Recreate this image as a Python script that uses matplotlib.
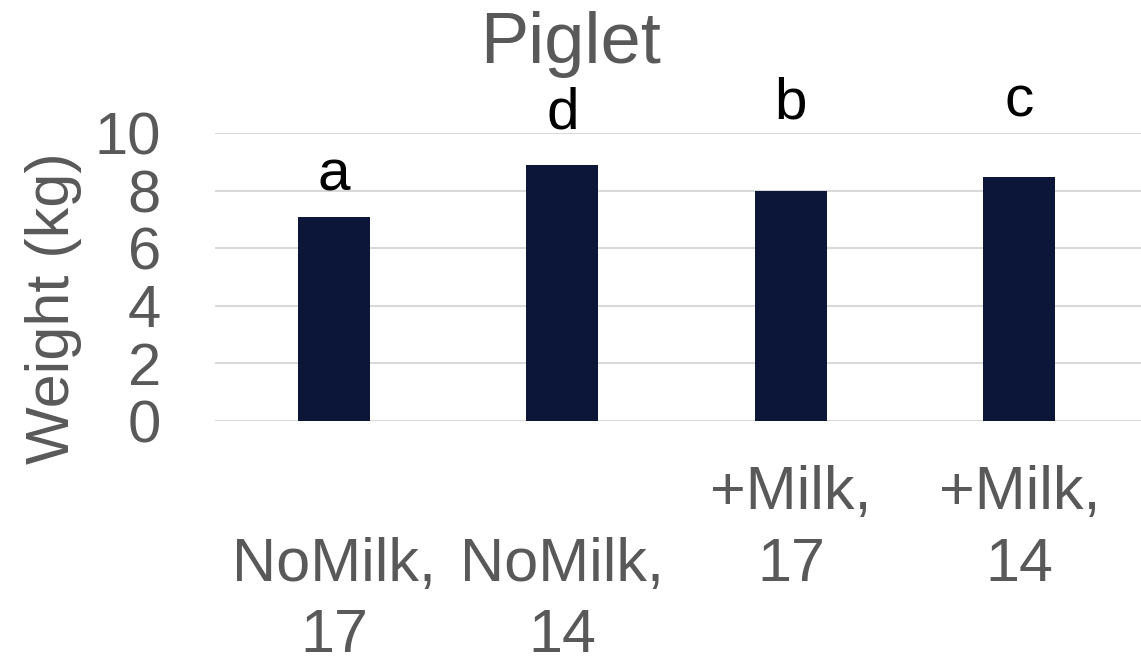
import matplotlib.pyplot as plt

# Piglet weights by treatment group

GROUPS = ["\nNoMilk,\n17", "\nNoMilk,\n14", "+Milk,\n17", "+Milk,\n14"]
WEIGHTS = [7.09, 8.90, 8.00, 8.49]
LETTERS = ["a", "d", "b", "c"]
LETTER_HEIGHTS = [8.03, 10.18, 10.50, 10.57]
Y_TICKS = [0, 2, 4, 6, 8, 10]

BAR_COLOR = "#0c1638"
TEXT_GRAY = "#595959"
GRID_GRAY = "#d9d9d9"

plt.rcParams["font.family"] = ["Liberation Sans", "DejaVu Sans"]

fig = plt.figure(figsize=(11.41, 6.69), dpi=100)
ax = fig.add_axes([0.1884, 0.3707, 0.8116, 0.4300])

positions = range(len(GROUPS))
ax.bar(positions, WEIGHTS, width=0.315, color=BAR_COLOR, zorder=3)

for x, letter, height in zip(positions, LETTERS, LETTER_HEIGHTS):
    ax.text(x, height, letter, ha="center", va="baseline",
            fontsize=42, color="black", clip_on=False)

ax.set_xlim(-0.521, 3.532)
ax.set_ylim(0, 10)
ax.set_yticks(Y_TICKS)
ax.set_xticks(list(positions))
ax.set_xticklabels(GROUPS, fontsize=44, color=TEXT_GRAY, linespacing=1.32)
ax.tick_params(axis="y", labelsize=43, labelcolor=TEXT_GRAY, length=0, pad=39)
ax.tick_params(axis="x", length=0, pad=32)

ax.grid(axis="y", color=GRID_GRAY, linewidth=1.5, zorder=0)
for spine in ax.spines.values():
    spine.set_visible(False)

fig.text(0.047, 1 - 308 / 669, "Weight (kg)", rotation=90, ha="center",
         va="center", fontsize=44, color=TEXT_GRAY)
fig.text(0.5, 1 - 45 / 669, "Piglet", ha="center", va="center",
         fontsize=52, color=TEXT_GRAY)

fig.savefig("out.png", dpi=100)
